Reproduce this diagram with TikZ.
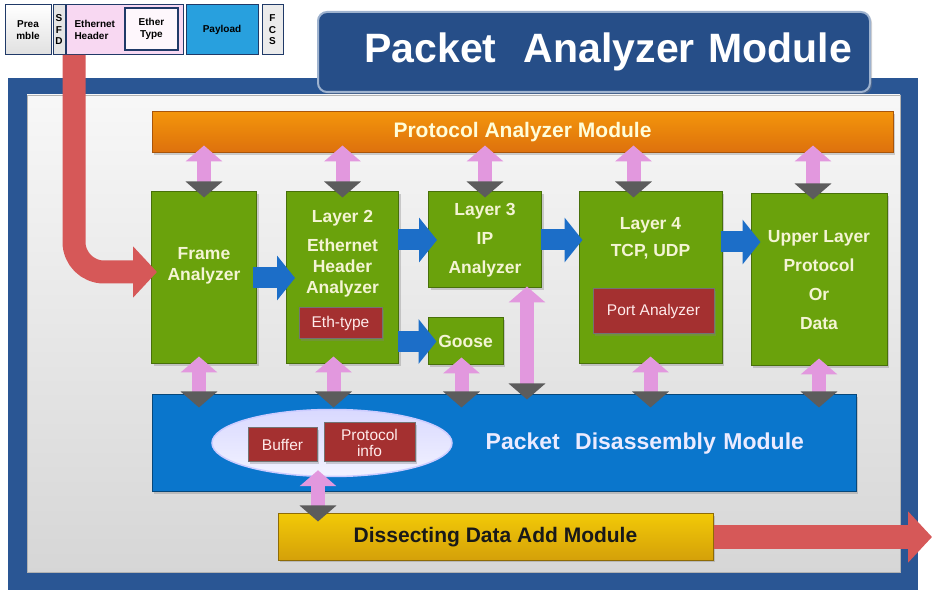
\documentclass[tikz,border=0pt]{standalone}
\usepackage{fontspec}
\setmainfont{Liberation Sans}
\usetikzlibrary{arrows.meta,positioning,shapes.geometric,shadows}

\definecolor{navy}{RGB}{42,86,148}
\definecolor{navydk}{RGB}{32,58,104}
\definecolor{titlebl}{RGB}{38,78,136}
\definecolor{orng}{RGB}{240,122,14}
\definecolor{grn}{RGB}{106,162,12}
\definecolor{grndk}{RGB}{72,112,10}
\definecolor{redbx}{RGB}{164,48,48}
\definecolor{dblue}{RGB}{10,118,204}
\definecolor{ylw}{RGB}{236,178,10}
\definecolor{pinkarr}{RGB}{226,152,222}
\definecolor{greyarr}{RGB}{92,92,92}
\definecolor{arrblue}{RGB}{28,110,200}
\definecolor{arrred}{RGB}{214,88,88}
\definecolor{cream}{RGB}{244,244,212}
\definecolor{hdrpink}{RGB}{248,216,242}
\definecolor{hdrblue}{RGB}{40,160,222}

\begin{document}
\begin{tikzpicture}[x=1pt,y=-1pt]
    \tikzset{softshadow/.style={drop shadow={shadow xshift=2pt,shadow yshift=-2pt,opacity=.35}},
    gbox/.style={draw=grndk,line width=1pt,fill=grn,inner sep=0pt,softshadow},
    gtext/.style={text=cream,font=\bfseries\fontsize{17.5}{21}\selectfont,align=center},
    rbox/.style={draw=black!55,line width=1pt,fill=redbx,text=white!92!red,
        font=\fontsize{15.5}{16}\selectfont,align=center,inner sep=1pt,softshadow},
    hcell/.style={draw=navydk,line width=1pt,minimum height=50pt,inner sep=0pt,
        align=center,font=\bfseries\fontsize{10}{11.5}\selectfont},
    blarr/.style={arrblue,line width=21pt,-{Triangle[width=44pt,length=18pt]}},
    pkarr/.style={pinkarr,line width=14pt,
        {Triangle[width=36pt,length=16pt]}-{Triangle[width=36pt,length=16pt,color=greyarr]}},
    rdarr/.style={arrred,line width=23pt,-{Triangle[width=50pt,length=24pt]}}}
    \useasboundingbox (0,0) rectangle (935,601);

    % frame and panel
    \fill[navy] (8,78) rectangle (918,590);
    \draw[black!30,top color=white!97!black,bottom color=black!16] (27,95) rectangle (900,572);
    \node[draw=navy!45!white,line width=2pt,fill=titlebl,rounded corners=9pt,softshadow,
        minimum width=552pt,minimum height=80pt,text width=516pt,align=right,
        text=white,font=\bfseries\fontsize{41}{44}\selectfont] (title) at (594,52)
        {Packet\ \ Analyzer Module};

    % frame format strip
    \node[hcell,minimum width=46pt,top color=white,bottom color=black!12] (pre) at (28,30) {Prea\\mble};
    \node[hcell,minimum width=12pt,fill=white!90!black] (sfd) at (59,30) {S\\F\\D};
    \node[hcell,minimum width=117pt,fill=hdrpink,text width=100pt,align=left] (eth) at (124.5,30)
        {Ethernet\\Header};
    \node[hcell,line width=2pt,minimum width=53pt,minimum height=42pt,fill=white!80!hdrpink] (ety)
        at (151.5,29) {Ether\\Type};
    \node[hcell,minimum width=72pt,fill=hdrblue] (pay) at (222,30) {Payload};
    \node[hcell,minimum width=21pt,fill=white!92!black] (fcs) at (272.5,30) {F\\C\\S};
    \coordinate (rin) at (74,55);

    % modules
    \node[draw=orng!70!black,line width=1pt,top color=orng!80!yellow,bottom color=orng!92!black,
        minimum width=741pt,minimum height=41pt,text=white!85!yellow,softshadow,
        font=\bfseries\fontsize{21}{23}\selectfont] (pam) at (522.5,132.5) {Protocol Analyzer Module};
    \node[draw=dblue!60!black,line width=1pt,fill=dblue,minimum width=704pt,minimum height=97pt,
        text width=600pt,align=right,text=white!92!blue,softshadow,
        font=\bfseries\fontsize{23}{26}\selectfont] (pdm) at (504,443.5) {Packet\ \ Disassembly Module};
    \node[ellipse,draw=blue!20!white,line width=1.5pt,top color=white!85!blue,bottom color=white!95!blue,
        minimum width=240pt,minimum height=67pt] (ell) at (332,443) {};
    \node[rbox,minimum width=69pt,minimum height=34pt] (buf) at (282.5,445) {Buffer};
    \node[rbox,minimum width=91pt,minimum height=39pt] (pinfo) at (369.5,442.5) {Protocol\\info};
    \node[draw=ylw!60!black,line width=1pt,top color=ylw!70!yellow,bottom color=ylw!90!black,
        minimum width=435pt,minimum height=46pt,text=black!90,softshadow,
        font=\bfseries\fontsize{21}{23}\selectfont] (dda) at (495.5,537) {Dissecting Data Add Module};
    \coordinate (rout) at (932,537);

    % analyzers
    \node[gbox,minimum width=105pt,minimum height=172pt] (frame) at (204,278) {};
    \node[gtext] at ([yshift=12pt]frame.center) {Frame\\Analyzer};
    \node[gbox,minimum width=112pt,minimum height=172pt] (layer2) at (342.5,278) {};
    \node[gtext,below=15pt of layer2.north] {Layer 2\\[8pt]Ethernet\\Header\\Analyzer};
    \node[rbox,minimum width=83pt,minimum height=31pt] (ethtype) at (340.5,323.5) {Eth-type};
    \node[gbox,gtext,minimum width=113pt,minimum height=96pt] (layer3) at (485,240)
        {Layer 3\\[8pt]IP\\[8pt]Analyzer};
    \node[gbox,gtext,minimum width=75pt,minimum height=47pt] (goose) at (465.5,341.5) {Goose};
    \node[gbox,minimum width=143pt,minimum height=172pt] (layer4) at (650.5,278) {};
    \node[gtext,below=22pt of layer4.north] {Layer 4\\[6pt]TCP, UDP};
    \node[rbox,minimum width=121pt,minimum height=45pt] (port) at (653.5,311.5) {Port Analyzer};
    \node[gbox,gtext,minimum width=136pt,minimum height=172pt] (upper) at (819,280)
        {Upper Layer\\[8pt]Protocol\\[8pt]Or\\[8pt]Data};

    % data path
    \draw[rdarr,rounded corners=30pt] (rin) |- ([xshift=6pt,yshift=6pt]frame.west);
    \draw[blarr] ([xshift=-4pt]frame.east) -- ([xshift=9pt]layer2.west);
    \draw[blarr] ([xshift=-1pt]layer2.east |- layer3) -- ([xshift=9pt]layer3.west);
    \draw[blarr] ([xshift=-1pt]layer2.east |- goose) -- ([xshift=9pt]goose.west);
    \draw[blarr] ([xshift=-1pt]layer3.east) -- ([xshift=4pt]layer4.west |- layer3);
    \draw[blarr] ([xshift=-2pt,yshift=-2pt]layer4.east |- layer3) -- ([xshift=10pt,yshift=-2pt]upper.west |- layer3);
    \draw[rdarr] (dda.east) -- (rout);

    % control links
    \draw[pkarr] ([yshift=8pt]pam.south -| frame) -- ([yshift=-6pt]frame.north);
    \draw[pkarr] ([yshift=8pt]pam.south -| layer2) -- ([yshift=-6pt]layer2.north);
    \draw[pkarr] ([yshift=8pt]pam.south -| layer3) -- ([yshift=-6pt]layer3.north);
    \draw[pkarr] ([xshift=-17pt,yshift=8pt]pam.south -| layer4) -- ([xshift=-17pt,yshift=-6pt]layer4.north);
    \draw[pkarr] ([xshift=-6pt,yshift=8pt]pam.south -| upper) -- ([xshift=-6pt,yshift=-6pt]upper.north);
    \draw[pkarr] ([xshift=-5pt,yshift=8pt]frame.south) -- ([xshift=-5pt,yshift=-13pt]pdm.north -| frame);
    \draw[pkarr] ([xshift=-9pt,yshift=8pt]layer2.south) -- ([xshift=-9pt,yshift=-13pt]pdm.north -| layer2);
    \draw[pkarr] ([xshift=-4pt,yshift=8pt]goose.south) -- ([xshift=-4pt,yshift=-13pt]pdm.north -| goose);
    \draw[pkarr] ([xshift=42pt,yshift=2pt]layer3.south) -- ([xshift=42pt,yshift=-5pt]pdm.north -| layer3);
    \draw[pkarr] ([yshift=8pt]layer4.south) -- ([yshift=-13pt]pdm.north -| layer4);
    \draw[pkarr] ([yshift=8pt]upper.south) -- ([yshift=-13pt]pdm.north -| upper);
    \draw[pkarr] ([xshift=-14pt,yshift=7pt]ell.south) -- ([xshift=-14pt,yshift=-8pt]dda.north -| ell);
\end{tikzpicture}
\end{document}
